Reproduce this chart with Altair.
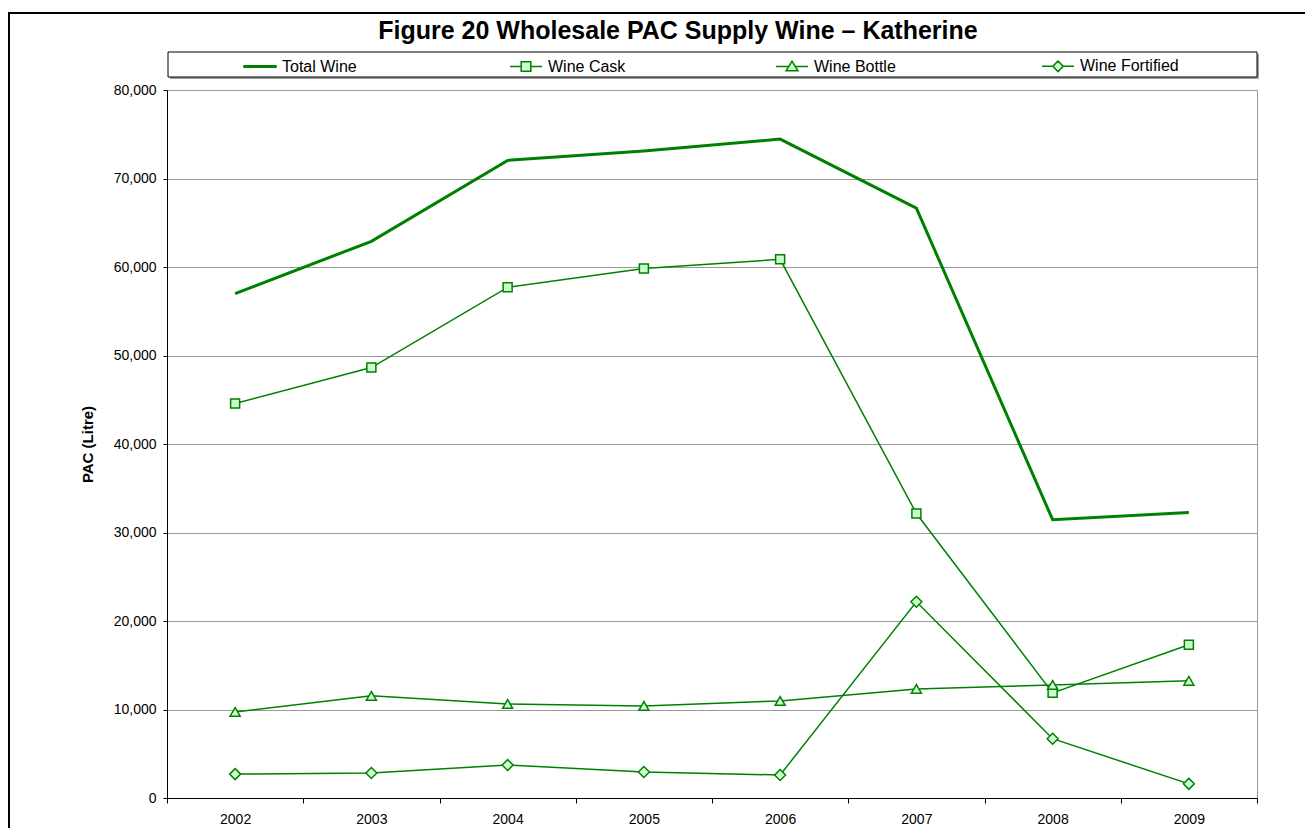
import altair as alt
import pandas as pd

years = ["2002", "2003", "2004", "2005", "2006", "2007", "2008", "2009"]
series_names = ["Total Wine", "Wine Cask", "Wine Bottle", "Wine Fortified"]
total_wine = [57000, 62900, 72050, 73100, 74450, 66650, 31450, 32250]
wine_cask = [44570, 48640, 57700, 59840, 60870, 32150, 11880, 17320]
wine_bottle = [9730, 11540, 10630, 10400, 10970, 12330, 12780, 13240]
wine_fortified = [2700, 2820, 3720, 2930, 2600, 22170, 6700, 1600]
y_ticks = [0, 10000, 20000, 30000, 40000, 50000, 60000, 70000, 80000]

rows = []
for name, vals in zip(series_names, [total_wine, wine_cask, wine_bottle, wine_fortified]):
    for yr, v in zip(years, vals):
        rows.append({"year": yr, "series": name, "value": v})
df = pd.DataFrame(rows)

GREEN = "#008000"
LIGHT = "#ccffcc"
FONT = "Liberation Sans"
marker_series = series_names[1:]

x_enc = alt.X(
    "year:O", title=None, bandPosition=0.5,
    scale=alt.Scale(type="band", paddingInner=0, paddingOuter=0),
    axis=alt.Axis(tickBand="extent", labelAngle=0, labelFont=FONT, labelFontSize=14,
                  labelColor="black", domainColor="black", tickColor="black",
                  tickSize=5, labelPadding=9, grid=False),
)
y_enc = alt.Y(
    "value:Q", title="PAC (Litre)",
    scale=alt.Scale(domain=[0, 80000], nice=False),
    axis=alt.Axis(values=y_ticks, format=",.0f", labelFont=FONT, labelFontSize=14,
                  labelColor="black", domainColor="black", tickColor="black",
                  tickSize=4, labelPadding=7, grid=True, gridColor="#999999",
                  titleFont=FONT, titleFontSize=15, titleFontWeight="bold",
                  titleColor="black", titlePadding=18),
)

base = alt.Chart(df)
deco = alt.Chart(pd.DataFrame({"k": [0]}))

frame = deco.mark_rect(fill="transparent", stroke="black", strokeWidth=2).encode(
    x=alt.value(-158), x2=alt.value(1300), y=alt.value(-77), y2=alt.value(900))
legend_shadow = deco.mark_rect(fill="#a0a0a0").encode(
    x=alt.value(3), x2=alt.value(1092), y=alt.value(-36), y2=alt.value(-11))
legend_box = deco.mark_rect(fill="white", stroke="black", strokeWidth=1).encode(
    x=alt.value(1), x2=alt.value(1090), y=alt.value(-38), y2=alt.value(-13))

total_line = base.transform_filter(alt.datum.series == "Total Wine").mark_line(
    color=GREEN, strokeWidth=3).encode(x=x_enc, y=y_enc)
other_lines = base.transform_filter(alt.datum.series != "Total Wine").mark_line(
    color=GREEN, strokeWidth=1.5).encode(x=x_enc, y=y_enc, detail="series:N")
points = base.transform_filter(alt.datum.series != "Total Wine").mark_point(
    filled=True, fill=LIGHT, stroke=GREEN, strokeWidth=1.5, opacity=1).encode(
    x=x_enc, y=y_enc,
    shape=alt.Shape("series:N", legend=None,
                    scale=alt.Scale(domain=marker_series,
                                    range=["square", "triangle-up", "diamond"])),
    size=alt.Size("series:N", legend=None,
                  scale=alt.Scale(domain=marker_series, range=[81, 120, 100])),
)

legend_paths = [
    "M-1,-0.05H1V0.05H-1Z",
    "M-1,0H-0.3M0.3,0H1M-0.3,-0.3H0.3V0.3H-0.3Z",
    "M-1,0H-0.2M0.2,0H1M0,-0.33L0.37,0.27H-0.37Z",
    "M-1,0H-0.33M0.33,0H1M0,-0.33L0.33,0L0,0.33L-0.33,0Z",
]
leg = alt.Legend(orient="none", legendX=76, legendY=-41, direction="horizontal",
                 columns=4, columnPadding=126, gridAlign="all", title=None,
                 labelFont=FONT, labelFontSize=16, labelColor="black",
                 labelOffset=5, symbolSize=1024, padding=0,
                 symbolStrokeWidth=1.5, labelLimit=300)
legend_layer = base.transform_filter("false").mark_point(
    filled=True, strokeWidth=1.5, size=1024, opacity=1).encode(
    shape=alt.Shape("series:N", legend=leg,
                    scale=alt.Scale(domain=series_names, range=legend_paths)),
    stroke=alt.Stroke("series:N", legend=leg,
                      scale=alt.Scale(domain=series_names, range=[GREEN] * 4)),
    fill=alt.Fill("series:N", legend=leg,
                  scale=alt.Scale(domain=series_names, range=[GREEN, LIGHT, LIGHT, LIGHT])),
)

chart = alt.layer(frame, legend_shadow, legend_box, total_line, other_lines, points,
                  legend_layer).resolve_scale(
    shape="independent", size="independent", stroke="independent", fill="independent"
).properties(
    width=1090, height=708,
    autosize=alt.AutoSizeParams(type="none"),
    padding={"left": 159, "top": 82, "right": 48, "bottom": 30},
    title=alt.TitleParams("Figure 20 Wholesale PAC Supply Wine – Katherine", font=FONT,
                          fontSize=25, fontWeight="bold", color="black",
                          anchor="middle", dx=-34, dy=42, offset=10),
).configure_view(stroke="#999999")

chart.save("out.html", embed_options={"renderer": "svg", "actions": False})
